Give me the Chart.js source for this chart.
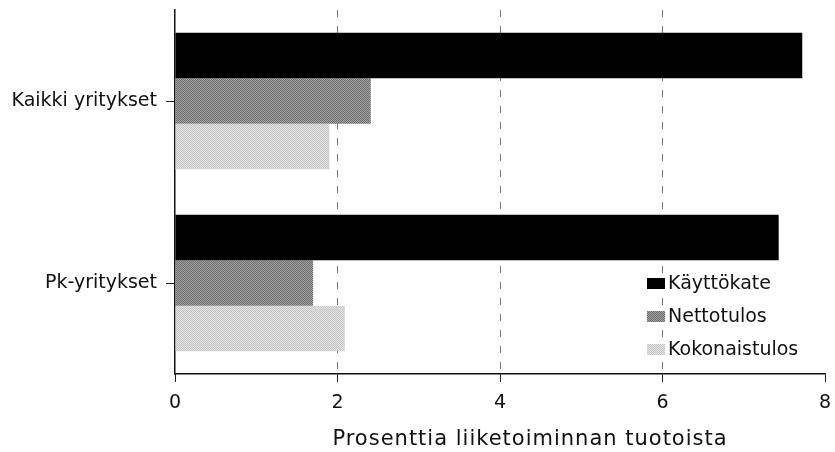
<!DOCTYPE html>
<html><head><meta charset="utf-8">
<script src="https://cdn.jsdelivr.net/npm/chart.js@4/dist/chart.umd.min.js"></script>
<style>html,body{margin:0;padding:0;background:#fff;} #wrap{width:835px;height:452px;}</style>
</head><body><div id="wrap"><canvas id="c" width="835" height="452"></canvas></div>
<script>
const categories = ['Kaikki yritykset', 'Pk-yritykset'];
const seriesNames = ['Käyttökate', 'Nettotulos', 'Kokonaistulos'];
const kayttokate = [7.72, 7.43];
const nettotulos = [2.41, 1.70];
const kokonaistulos = [1.90, 2.09];
const xTicks = [0, 2, 4, 6, 8];
const axisTitle = 'Prosenttia liiketoiminnan tuotoista';

const canvas = document.getElementById('c');
const mainCtx = canvas.getContext('2d');
function dither(base, dot) {
  const p = document.createElement('canvas');
  p.width = 2; p.height = 2;
  const g = p.getContext('2d');
  g.fillStyle = base; g.fillRect(0, 0, 2, 2);
  g.fillStyle = dot; g.fillRect(0, 0, 1, 1); g.fillRect(1, 1, 1, 1);
  return mainCtx.createPattern(p, 'repeat');
}
const fills = ['#000000', dither('#a4a4a4', '#6c6c6c'), dither('#e2e2e2', '#c6c6c6')];
const FONT = 'DejaVu Sans';

const overlay = {
  id: 'overlay',
  afterDraw(chart) {
    const ctx = chart.ctx;
    const ca = chart.chartArea;
    ctx.save();
    // legend
    ctx.font = '19px "' + FONT + '"';
    ctx.textAlign = 'left';
    ctx.textBaseline = 'middle';
    chart.data.datasets.forEach((ds, i) => {
      const cy = 283.5 + i * 33;
      ctx.fillStyle = ds.backgroundColor;
      ctx.fillRect(647, cy - 5.5, 18, 11);
      ctx.fillStyle = '#111';
      ctx.fillText(ds.label, 668, cy + 1);
    });
    // axis title
    ctx.font = '21px "' + FONT + '"';
    try { ctx.letterSpacing = '1px'; } catch (e) {}
    ctx.textAlign = 'center';
    ctx.textBaseline = 'alphabetic';
    ctx.fillStyle = '#111';
    ctx.fillText(axisTitle, (ca.left + ca.right) / 2 + 30, 445);
    ctx.restore();
  }
};

new Chart(canvas, {
  type: 'bar',
  data: {
    labels: categories,
    datasets: [
      { label: seriesNames[0], data: kayttokate, backgroundColor: fills[0] },
      { label: seriesNames[1], data: nettotulos, backgroundColor: fills[1] },
      { label: seriesNames[2], data: kokonaistulos, backgroundColor: fills[2] }
    ]
  },
  options: {
    indexAxis: 'y',
    responsive: false,
    animation: false,
    layout: { padding: { top: 10, right: 10, left: 0, bottom: 0 } },
    plugins: { legend: { display: false }, tooltip: { enabled: false } },
    datasets: { bar: { categoryPercentage: 0.75, barPercentage: 1 } },
    scales: {
      x: {
        min: 0, max: 8,
        afterBuildTicks: s => { s.ticks = xTicks.map(v => ({ value: v })); },
        grid: {
          color: c => (c.tick && (c.tick.value === 0 || c.tick.value === 8)) ? 'rgba(0,0,0,0)' : '#7a7a7a',
          lineWidth: 1, drawTicks: true, tickLength: 8, tickColor: '#222', tickWidth: 1
        },
        border: { display: true, color: '#111', width: 1.5, dash: [7, 9] },
        ticks: { color: '#111', font: { family: FONT, size: 19 }, padding: 10, maxRotation: 0 },
        afterFit: s => { s.height = 78; s.paddingLeft = 0; s.paddingRight = 0; s.paddingTop = 0; s.paddingBottom = 0; }
      },
      y: {
        grid: { offset: false, drawOnChartArea: false, drawTicks: true, tickLength: 9, tickColor: '#222' },
        border: { display: true, color: '#111', width: 1.5 },
        ticks: { color: '#111', font: { family: FONT, size: 19 }, padding: 9 },
        afterFit: s => { s.width = 175; s.paddingTop = 0; s.paddingBottom = 0; s.paddingLeft = 0; s.paddingRight = 0; }
      }
    }
  },
  plugins: [overlay]
});
</script>
</body></html>
